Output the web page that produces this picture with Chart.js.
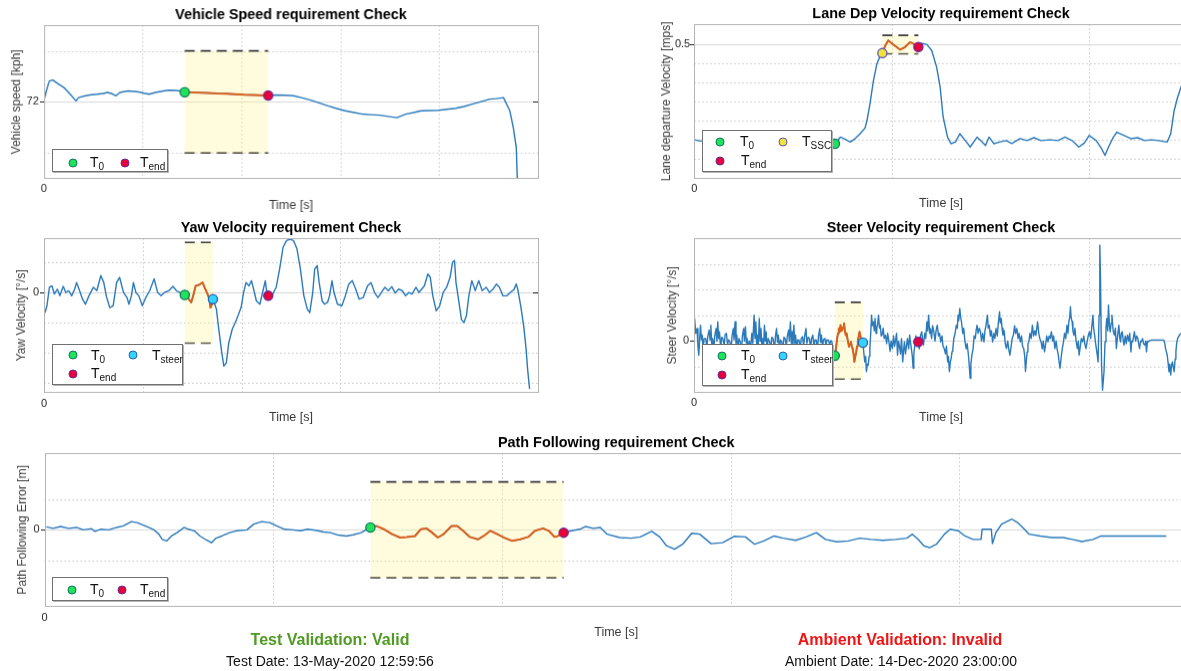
<!DOCTYPE html>
<html><head><meta charset="utf-8">
<script src="https://cdn.jsdelivr.net/npm/chart.js@4.4.1/dist/chart.umd.min.js"></script>
<style>
html,body{margin:0;padding:0;width:1181px;height:671px;overflow:hidden;background:#fff;font-family:"Liberation Sans",Arial,Helvetica,sans-serif;}
canvas{position:absolute;}
.lg{position:absolute;background:#fff;border:1px solid #707070;box-shadow:1px 1px 0 #b5b5b5;box-sizing:border-box;}
.lg .m{position:absolute;width:9px;height:9px;border-radius:50%;box-sizing:border-box;border:1.2px solid;transform:translate(-50%,-50%);}
.lg .t{position:absolute;font-size:14px;line-height:14px;color:#111;white-space:nowrap;}
.lg .t sub{font-size:10px;vertical-align:-3px;line-height:0;}
.ft{position:absolute;transform:translateX(-50%);white-space:nowrap;}
</style></head><body>
<canvas id="c1"></canvas><canvas id="c2"></canvas><canvas id="c3"></canvas><canvas id="c4"></canvas><canvas id="c5"></canvas>

<div class="lg" style="left:52px;top:149px;width:116px;height:23px">
 <span class="m" style="left:20px;top:13px;background:#20e35b;border-color:#0b7a5c"></span>
 <span class="t" style="left:37px;top:5px">T<sub>0</sub></span>
 <span class="m" style="left:72px;top:13px;background:#e8003c;border-color:#6a2c94"></span>
 <span class="t" style="left:87px;top:5px">T<sub>end</sub></span>
</div>
<div class="lg" style="left:702px;top:130px;width:130px;height:42px">
 <span class="m" style="left:17px;top:11px;background:#20e35b;border-color:#0b7a5c"></span>
 <span class="t" style="left:37px;top:3px">T<sub>0</sub></span>
 <span class="m" style="left:80px;top:11px;background:#f4e23c;border-color:#5b59b4"></span>
 <span class="t" style="left:99px;top:3px">T<sub>SSC</sub></span>
 <span class="m" style="left:17px;top:30px;background:#e8003c;border-color:#6a2c94"></span>
 <span class="t" style="left:38px;top:22px">T<sub>end</sub></span>
</div>
<div class="lg" style="left:52px;top:344px;width:131px;height:41px">
 <span class="m" style="left:20px;top:10px;background:#20e35b;border-color:#0b7a5c"></span>
 <span class="t" style="left:38px;top:3px">T<sub>0</sub></span>
 <span class="m" style="left:80px;top:10px;background:#35d3ff;border-color:#2a64b6"></span>
 <span class="t" style="left:99px;top:3px">T<sub>steer</sub></span>
 <span class="m" style="left:20px;top:29px;background:#e8003c;border-color:#6a2c94"></span>
 <span class="t" style="left:38px;top:21px">T<sub>end</sub></span>
</div>
<div class="lg" style="left:702px;top:344px;width:131px;height:42px">
 <span class="m" style="left:19px;top:11px;background:#20e35b;border-color:#0b7a5c"></span>
 <span class="t" style="left:38px;top:3px">T<sub>0</sub></span>
 <span class="m" style="left:80px;top:11px;background:#35d3ff;border-color:#2a64b6"></span>
 <span class="t" style="left:99px;top:3px">T<sub>steer</sub></span>
 <span class="m" style="left:19px;top:30px;background:#e8003c;border-color:#6a2c94"></span>
 <span class="t" style="left:38px;top:22px">T<sub>end</sub></span>
</div>
<div class="lg" style="left:52px;top:577px;width:116px;height:24px">
 <span class="m" style="left:19px;top:12px;background:#20e35b;border-color:#0b7a5c"></span>
 <span class="t" style="left:37px;top:4px">T<sub>0</sub></span>
 <span class="m" style="left:69px;top:12px;background:#e8003c;border-color:#6a2c94"></span>
 <span class="t" style="left:87px;top:4px">T<sub>end</sub></span>
</div>

<div class="ft" style="left:330px;top:631px;font-size:16px;line-height:18px;font-weight:bold;color:#4f9a22">Test Validation: Valid</div>
<div class="ft" style="left:330px;top:653px;font-size:14px;line-height:16px;color:#111">Test Date: 13-May-2020 12:59:56</div>
<div class="ft" style="left:900px;top:631px;font-size:16px;line-height:18px;font-weight:bold;color:#f01414">Ambient Validation: Invalid</div>
<div class="ft" style="left:901px;top:653px;font-size:14px;line-height:16px;color:#111">Ambient Date: 14-Dec-2020 23:00:00</div>

<script>
// ---------------- DATA (time in % of test duration, values in axis units) ----------------
const speedPts = [[0,72.04],[0.6,72.5],[1.1,72.82],[1.8,72.86],[2.8,72.72],[4.2,72.54],[5.6,72.24],[6.5,72.04],[7.0,72.17],[8.4,72.24],[9.6,72.28],[10.8,72.3],[12.0,72.33],[12.9,72.37],[13.8,72.32],[14.6,72.24],[15.4,72.37],[16.2,72.4],[17.1,72.43],[18.2,72.41],[19.2,72.39],[20.3,72.34],[21.3,72.3],[22.4,72.36],[23.4,72.4],[24.5,72.44],[25.5,72.46],[26.5,72.45],[27.5,72.43],[28.5,72.38],[29.8,72.37],[31.5,72.36],[33.1,72.35],[35.0,72.33],[36.9,72.32],[38.7,72.3],[40.5,72.28],[42.2,72.27],[43.8,72.26],[45.4,72.25],[47,72.27],[48.8,72.26],[50.5,72.24],[52.3,72.16],[54,72.07],[55.8,71.95],[57.5,71.84],[59.3,71.74],[61,71.65],[62.8,71.58],[64.5,71.52],[66.2,71.5],[68,71.48],[69.7,71.43],[71.4,71.38],[73.2,71.52],[74.8,71.58],[76.3,71.65],[78,71.66],[79.8,71.67],[81.5,71.71],[83.3,71.75],[85,71.82],[86.7,71.91],[88.5,72.01],[90.2,72.11],[91.6,72.13],[93,72.17],[94.3,71.65],[95,70.99],[95.6,70.21],[95.8,68.99],[96,68.2]];

const lanePts = [[0,0.249],[1.3,0.2455],[4,0.25],[7,0.242],[10,0.248],[13,0.24],[16,0.252],[19,0.245],[22,0.25],[25,0.243],[27.5,0.24],[28.5,0.2387],[29.6,0.256],[30.6,0.25],[31.6,0.243],[32.4,0.25],[33.6,0.265],[34.6,0.28],[35,0.3],[35.6,0.344],[36.3,0.405],[37,0.449],[37.7,0.471],[38.1,0.477],[38.7,0.497],[39.3,0.5105],[40.3,0.5],[41.7,0.486],[42.7,0.493],[43.7,0.506],[44.7,0.5],[45.4,0.493],[45.9,0.503],[47.1,0.5],[48.1,0.484],[49.1,0.44],[49.8,0.388],[50.4,0.31],[51.3,0.256],[52,0.2387],[52.9,0.243],[53.8,0.265],[54.9,0.247],[55.9,0.23],[57.3,0.256],[58.3,0.243],[59,0.234],[59.7,0.256],[60.7,0.2387],[61.8,0.243],[63.2,0.247],[64.3,0.239],[66,0.252],[67.4,0.247],[68.8,0.2545],[70.2,0.247],[72,0.249],[73.7,0.247],[75.1,0.256],[76.5,0.247],[77.9,0.23],[79,0.2403],[80,0.2605],[81.4,0.247],[82.5,0.2255],[83.2,0.208],[83.9,0.23],[84.9,0.256],[85.6,0.269],[87,0.2605],[88.4,0.252],[89.8,0.2545],[91.2,0.247],[92.6,0.249],[94,0.247],[95.8,0.243],[96.5,0.265],[97.2,0.326],[97.9,0.361],[98.6,0.388],[99.2,0.41]];

const yawPts = [[0.2,-0.66],[0.6,-0.43],[1.1,0.18],[1.6,0.23],[2.1,-0.04],[2.7,0.12],[3.2,-0.1],[3.9,0.21],[4.4,0.01],[5.0,0.07],[5.6,-0.1],[6.2,0.12],[6.6,0.34],[7.2,0.07],[7.8,-0.21],[8.4,-0.38],[9.1,-0.1],[10.0,0.18],[10.7,0.07],[11.5,0.57],[12.1,0.34],[12.6,-0.1],[13.3,-0.49],[14.0,-0.43],[14.7,0.34],[15.3,0.51],[16.1,0.01],[16.8,-0.16],[17.2,-0.38],[17.7,-0.1],[18.1,0.34],[18.6,0.01],[19.2,-0.1],[19.9,-0.43],[20.6,-0.16],[21.4,0.07],[22.3,0.46],[23.0,0.01],[23.7,-0.1],[24.4,0.01],[25.3,0.07],[26.1,0.21],[26.8,0.07],[27.5,0.01],[28.5,-0.07],[29.3,-0.21],[29.8,-0.32],[30.3,-0.04],[30.7,0.23],[31.4,0.26],[32.1,0.34],[32.5,0.18],[33.1,-0.04],[33.5,-0.21],[33.7,-0.49],[34.0,-0.38],[34.2,-0.21],[34.9,-0.54],[35.3,-1.1],[35.9,-1.88],[36.4,-2.43],[36.9,-2.32],[37.4,-1.66],[38.1,-1.21],[39.0,-0.88],[39.9,-0.49],[40.4,0.01],[40.9,0.34],[41.5,0.23],[42.0,0.4],[42.5,0.07],[43.0,-0.27],[43.7,-0.38],[44.4,0.12],[44.8,0.4],[45.1,0.01],[45.4,-0.1],[46.3,-0.04],[47.0,0.18],[47.7,0.79],[48.4,1.51],[49.1,1.73],[49.8,1.77],[50.5,1.73],[51.2,1.46],[51.9,0.79],[52.6,-0.1],[53.3,-0.54],[53.8,-0.66],[54.4,0.01],[54.8,0.79],[55.3,0.9],[55.7,0.34],[56.3,-0.27],[56.8,-0.38],[57.4,-0.32],[57.8,-0.1],[58.3,0.4],[58.7,0.01],[59.4,-0.38],[60.3,-0.43],[61.0,-0.1],[61.7,0.29],[62.4,0.4],[63.1,0.12],[63.8,-0.21],[64.6,-0.16],[65.5,0.23],[66.2,0.34],[66.9,0.01],[67.6,-0.16],[68.3,0.01],[69.0,0.18],[69.7,0.07],[70.4,0.2],[71.1,-0.01],[71.8,0.12],[72.5,0.07],[73.2,-0.1],[73.9,0.01],[74.5,-0.04],[75.3,0.18],[75.9,0.01],[77.0,0.23],[77.7,0.62],[78.2,0.51],[78.7,-0.1],[79.4,-0.6],[80.1,-0.43],[80.8,0.01],[81.5,0.18],[82.2,0.51],[82.7,1.01],[83.1,1.07],[83.4,0.34],[84.0,-0.32],[84.5,-0.88],[85.0,-0.99],[85.5,-0.77],[86.0,-0.1],[86.6,0.4],[87.3,0.07],[88.0,0.4],[88.7,0.07],[89.5,0.18],[90.2,0.01],[90.9,0.12],[91.6,0.29],[92.2,0.18],[92.9,-0.1],[93.7,-0.1],[94.4,0.01],[95.1,0.1],[95.6,0.29],[95.9,0.12],[96.5,-0.43],[97.1,-1.1],[97.6,-1.88],[97.9,-2.54],[98.3,-3.19]];

const steerPts = [[0.0,0.45],[0.13,0.88],[0.35,0.3],[0.62,0.49],[0.8,-0.2],[0.97,-0.55],[1.15,0.1],[1.32,0.62],[1.5,0.05],[1.67,0.23],[1.85,-0.3],[2.05,0.1],[2.37,0.1],[2.6,-0.25],[2.8,0.2],[3.07,0.43],[3.25,0.05],[3.41,0.62],[3.6,-0.2],[3.77,0.1],[4.0,-0.35],[4.2,0.2],[4.47,0.49],[4.65,0.0],[4.81,0.75],[5.0,0.1],[5.16,0.36],[5.4,-0.3],[5.6,0.15],[5.86,0.1],[6.1,-0.2],[6.3,0.25],[6.56,0.3],[6.8,-0.15],[7.0,0.05],[7.26,-0.03],[7.5,-0.4],[7.7,0.2],[7.96,0.49],[8.1,0.05],[8.31,0.75],[8.5,-0.1],[8.66,0.23],[8.9,-0.3],[9.1,0.1],[9.36,-0.03],[9.6,-0.45],[9.8,0.2],[10.06,0.49],[10.2,0.0],[10.41,0.56],[10.6,-0.1],[10.76,0.1],[11.0,-0.3],[11.2,0.0],[11.46,-0.29],[11.7,0.3],[11.9,-0.1],[12.16,1.01],[12.35,0.1],[12.52,0.75],[12.7,-0.2],[12.86,0.23],[13.0,-0.35],[13.21,0.88],[13.4,0.0],[13.56,0.49],[13.75,-0.3],[13.91,0.1],[14.1,-0.2],[14.26,0.62],[14.45,0.0],[14.61,0.36],[14.8,-0.4],[15.0,0.1],[15.31,-0.03],[15.55,-0.3],[15.75,0.15],[16.01,0.1],[16.3,-0.35],[16.5,0.2],[16.71,0.49],[16.9,-0.05],[17.06,0.23],[17.3,-0.3],[17.5,0.05],[17.76,-0.03],[18.0,-0.4],[18.2,0.15],[18.46,0.1],[18.7,-0.2],[18.9,0.2],[19.16,0.43],[19.3,0.0],[19.51,0.75],[19.7,-0.1],[19.86,0.36],[20.0,-0.25],[20.21,0.62],[20.4,-0.1],[20.56,0.23],[20.8,-0.3],[21.0,0.05],[21.26,0.04],[21.5,-0.35],[21.7,0.1],[21.96,0.17],[22.2,-0.2],[22.4,0.2],[22.66,0.49],[22.85,-0.1],[23.1,0.15],[23.36,0.1],[23.6,-0.3],[23.8,0.1],[24.06,0.23],[24.3,-0.25],[24.5,0.05],[24.76,0.04],[25.0,-0.35],[25.2,0.2],[25.46,0.49],[25.6,-0.05],[25.81,0.23],[26.0,-0.3],[26.2,0.05],[26.51,0.1],[26.7,-0.2],[26.9,0.05],[27.21,0.04],[27.45,-0.15],[27.7,0.02],[27.91,-0.03],[28.1,-0.3],[28.26,-0.42],[28.5,-0.57],
[28.8,-0.2],[28.97,0.1],[29.15,0.3],[29.3,0.49],[29.5,0.35],[29.66,0.62],[29.85,0.4],[30.0,0.43],[30.2,0.55],[30.36,0.69],[30.55,0.4],[30.71,0.23],[30.9,0.3],[31.06,0.1],[31.25,-0.1],[31.4,-0.22],[31.6,-0.1],[31.76,-0.03],[31.95,-0.2],[32.1,-0.29],[32.3,-0.5],[32.46,-0.81],[32.65,-0.6],[32.8,-0.48],[33.0,-0.2],[33.16,-0.03],[33.35,0.2],[33.5,0.36],[33.7,0.17],[33.9,0.0],[34.2,-0.06],
[34.4,-0.5],[34.56,-0.81],[34.75,-0.6],[34.9,-1.19],[35.1,-0.9],[35.26,-0.94],[35.45,-0.6],[35.6,-0.29],[35.8,0.4],[35.95,1.01],[36.1,0.6],[36.3,0.75],[36.5,0.4],[36.65,0.88],[36.85,0.3],[37.0,0.49],[37.2,0.7],[37.35,1.01],[37.55,0.5],[37.7,0.62],[37.9,0.2],[38.06,0.23],[38.3,0.5],[38.5,0.1],[38.76,0.23],[39.0,-0.1],[39.2,0.3],[39.46,-0.03],[39.7,-0.4],[39.9,0.0],[40.16,-0.29],[40.4,0.2],[40.6,-0.2],[40.86,0.1],[41.0,0.3],[41.2,-0.55],[41.4,0.0],[41.55,-0.16],[41.8,-0.5],[42.0,0.1],[42.25,-0.81],[42.45,-0.3],[42.6,-0.03],[42.8,-0.5],[42.95,-0.29],[43.2,0.1],[43.45,-0.3],[43.65,0.23],[43.85,-0.1],[44.0,-0.29],[44.2,-0.6],[44.35,-1.06],[44.5,-0.5],[44.7,-0.16],[44.9,0.2],[45.05,0.1],[45.4,-0.03],[45.6,-0.3],[45.85,0.2],[46.1,0.36],[46.3,0.0],[46.45,-0.16],[46.7,0.3],[46.9,0.1],[47.15,0.75],[47.3,0.4],[47.5,1.01],[47.7,0.3],[47.85,0.49],[48.1,0.1],[48.3,0.6],[48.55,0.36],[48.8,0.0],[49.0,0.4],[49.25,0.62],[49.5,0.2],[49.7,0.3],[49.95,-0.03],[50.2,0.2],[50.4,-0.2],[50.65,-0.29],[50.9,-0.5],[51.1,-0.2],[51.35,-0.81],[51.5,-0.6],[51.7,-1.19],[51.9,-0.8],[52.05,-0.68],[52.25,-0.4],[52.4,-0.29],[52.6,0.1],[52.85,0.3],[53.1,0.62],[53.3,0.5],[53.45,1.01],[53.6,0.8],[53.8,1.27],[54.0,0.9],[54.15,0.75],[54.4,0.3],[54.6,0.5],[54.85,-0.03],[55.1,-0.3],[55.3,-0.1],[55.55,-0.55],[55.7,-0.9],[55.9,-1.45],[56.05,-0.9],[56.25,-0.55],[56.5,-0.3],[56.7,0.2],[56.95,0.1],[57.1,0.4],[57.3,0.62],[57.5,0.3],[57.75,0.5],[58.0,0.36],[58.2,0.0],[58.45,0.3],[58.7,-0.03],[58.9,0.4],[59.1,0.6],[59.4,1.01],[59.55,0.5],[59.75,0.62],[60.0,0.2],[60.2,0.4],[60.45,-0.03],[60.7,0.3],[60.9,0.1],[61.15,0.49],[61.4,0.2],[61.6,0.7],[61.85,1.14],[62.0,0.7],[62.2,0.88],[62.35,0.5],[62.55,0.23],[62.8,0.4],[63.0,-0.1],[63.25,-0.29],[63.5,0.0],[63.7,-0.3],[63.95,-0.55],[64.2,-0.2],[64.4,0.1],[64.65,0.23],[64.9,0.6],[65.1,0.3],[65.35,0.49],[65.6,0.1],[65.8,0.3],[66.05,-0.03],[66.3,0.2],[66.5,-0.2],[66.75,-0.29],[66.95,-0.6],[67.1,-1.19],[67.3,-0.7],[67.45,-0.42],[67.6,-0.1],[67.8,-0.03],[68.0,0.3],[68.25,0.1],[68.5,0.62],[68.75,0.2],[69.0,0.4],[69.2,0.23],[69.4,0.5],[69.55,0.75],[69.8,0.3],[70.0,0.1],[70.25,-0.03],[70.5,-0.3],[70.7,0.0],[70.95,-0.42],[71.2,-0.1],[71.4,0.2],[71.65,-0.03],[71.9,0.2],[72.1,0.1],[72.35,0.36],[72.6,0.0],[72.8,0.2],[73.05,-0.29],[73.3,0.0],[73.5,-0.3],[73.75,-0.55],[73.9,-0.8],[74.1,-1.06],[74.35,-0.6],[74.55,-0.3],[74.8,-0.03],[75.0,0.3],[75.25,0.1],[75.5,0.62],[75.7,0.3],[75.9,0.8],[76.05,0.9],[76.2,1.34],[76.35,0.9],[76.55,0.75],[76.7,0.4],[76.9,0.23],[77.1,0.5],[77.35,0.0],[77.6,-0.29],[77.8,0.0],[77.95,-0.55],[78.2,-0.2],[78.4,0.1],[78.65,-0.03],[78.9,0.2],[79.1,-0.1],[79.35,-0.29],[79.6,0.0],[79.8,0.2],[80.05,0.36],[80.3,0.1],[80.5,0.5],[80.75,1.01],[80.9,0.5],[81.1,0.23],[81.3,-0.1],[81.45,-0.29],[81.6,-0.5],[81.8,-0.81],[82.0,1.01],[82.15,3.74],[82.3,2.31],[82.5,-0.94],[82.7,-1.91],[83.0,-1.19],[83.2,-0.03],[83.4,0.5],[83.55,0.88],[83.75,0.4],[83.9,1.4],[84.1,0.6],[84.25,0.36],[84.45,0.7],[84.6,1.01],[84.85,0.4],[85.1,0.23],[85.3,0.5],[85.5,-0.29],[85.75,0.2],[86.0,0.62],[86.2,0.1],[86.35,-0.03],[86.5,0.3],[86.7,0.36],[86.9,0.0],[87.05,-0.16],[87.3,0.2],[87.5,-0.1],[87.75,0.23],[88.0,0.0],[88.2,0.3],[88.45,-0.42],[88.6,0.0],[88.8,-0.03],[89.0,0.2],[89.15,0.36],[89.4,0.0],[89.6,0.2],[89.85,0.1],[90.0,-0.1],[90.2,-0.29],[90.4,0.0],[90.55,-0.03],[90.8,0.1],[91.0,-0.1],[91.25,-0.16],[91.45,0.0],[91.6,-0.42],[91.8,0.0],[91.95,-0.03],[92.3,0.02],[92.65,0.04],[95.1,0.04],[95.3,-0.1],[95.45,-0.29],[95.6,-0.4],[95.8,-0.55],[96.0,-0.9],[96.15,-1.19],[96.3,-0.9],[96.5,-1.32],[96.7,-0.9],[96.85,-0.81],[97.0,-1.0],[97.2,-1.19],[97.4,-0.7],[97.55,-0.42],[97.7,-0.1],[97.9,0.1],[98.25,0.23],[98.6,0.3]];

const pathPts = [[0.16,0.1],[0.76,0.05],[1.4,0.11],[2.1,0.05],[2.8,0.08],[3.4,0],[4.1,0.04],[4.4,-0.05],[4.9,0.02],[5.6,0],[6.3,0.08],[6.9,0.13],[7.6,0.27],[8.1,0.24],[8.8,0.13],[9.5,0.02],[10,-0.14],[10.3,-0.31],[10.7,-0.36],[11.1,-0.2],[11.6,-0.09],[12.2,0.08],[12.6,0.02],[13.1,-0.03],[13.6,-0.2],[14.2,-0.34],[14.6,-0.42],[15,-0.27],[15.5,-0.2],[16.2,-0.09],[16.8,-0.03],[17.7,0],[18.3,0.19],[19,0.27],[19.7,0.24],[20.3,0.13],[21,0.02],[21.7,0],[22.4,-0.03],[23,0.02],[23.7,-0.01],[24.4,-0.07],[25,-0.09],[25.7,-0.17],[26.4,-0.2],[27,-0.16],[27.7,-0.09],[28.5,0.08],[29,0.13],[29.7,0.02],[30.4,-0.14],[31.1,-0.25],[31.7,-0.23],[32.4,-0.2],[32.9,0.02],[33.4,0.05],[33.9,-0.09],[34.4,-0.25],[34.9,-0.14],[35.6,0.13],[36.1,0.13],[36.6,-0.03],[37.2,-0.23],[37.9,-0.31],[38.4,-0.2],[39,-0.03],[39.6,-0.14],[40.3,-0.27],[40.9,-0.36],[41.6,-0.31],[42.3,-0.23],[42.9,-0.03],[43.6,0.05],[44.1,-0.03],[44.6,-0.23],[44.9,-0.2],[45.4,-0.09],[46.1,-0.03],[46.8,0.02],[47.3,0.11],[48,0.05],[48.6,0.08],[49.2,-0.14],[50.3,-0.25],[51.3,-0.27],[52.1,-0.23],[53.1,-0.05],[53.8,-0.23],[54.4,-0.52],[55.1,-0.63],[55.8,-0.47],[56.6,-0.11],[57.3,-0.14],[58.3,-0.45],[59.3,-0.42],[60.3,-0.21],[61.3,-0.23],[62.1,-0.47],[62.9,-0.36],[63.8,-0.2],[64.6,-0.27],[65.7,-0.34],[66.6,-0.23],[67.5,-0.09],[68.3,-0.31],[69.3,-0.39],[70.3,-0.36],[71.3,-0.27],[72.3,-0.31],[73.3,-0.34],[74.4,-0.31],[75.4,-0.27],[75.9,-0.14],[76.4,-0.31],[76.9,-0.52],[77.4,-0.58],[78,-0.47],[78.7,-0.14],[79.2,0.02],[79.9,-0.03],[80.5,-0.2],[81.2,-0.31],[81.9,-0.31],[82.0,0.02],[82.8,0.02],[82.9,-0.45],[83.2,-0.09],[83.7,0.19],[84.6,0.35],[85.1,0.24],[85.7,0.02],[86.1,-0.14],[87.1,-0.2],[88.1,-0.25],[89.1,-0.25],[89.9,-0.31],[90.7,-0.38],[91.7,-0.31],[92.4,-0.2],[98.1,-0.2]];

// event times (% of test)
const tZero = 28.5, tSteer = 34.2, tSSC = 38.1, tEnd = 45.4;

// requirement bounds [low, high]
const speedBounds = [70, 74];
const laneBounds = [0.4755, 0.524];
const yawBounds = [-1.67, 1.67];
const steerBounds = [-1.48, 1.51];
const pathBounds = [-1.56, 1.57];

// axis ranges
const timeRange = [0, 100];
const speedRange = [69, 75];
const laneRange = [0.1474, 0.5526];
const yawRange = [-3.3, 1.8];
const steerRange = [-2, 4];
const pathRange = [-2.5, 2.5];

// labelled ticks
const xTickValues = [0];
const xTickLabels = ['0'];
const speedTickValues = [72], speedTickLabels = ['72'];
const laneTickValues = [0.5], laneTickLabels = ['0.5'];
const yawTickValues = [0], yawTickLabels = ['0'];
const steerTickValues = [0], steerTickLabels = ['0'];
const pathTickValues = [0], pathTickLabels = ['0'];

// minor (dotted) grid positions
const gridXFine = [20, 40, 60, 80];
const gridXCoarse = [40, 80];
const speedGridY = [70, 74];
const laneGridY = [0.2, 0.25, 0.3, 0.35, 0.4, 0.45];
const yawGridY = [1, -1, -2, -3];
const steerGridY = [-1, 1, 2, 3];
const pathGridY = [-1, 1];

// texts
const titles = ['Vehicle Speed requirement Check','Lane Dep Velocity requirement Check','Yaw Velocity requirement Check','Steer Velocity requirement Check','Path Following requirement Check'];
const yLabels = ['Vehicle speed [kph]','Lane departure Velocity [mps]','Yaw Velocity [°/s]','Steer Velocity [°/s]','Path Following Error [m]'];
const xLabel = 'Time [s]';

// ---------------- STYLE ----------------
const FONT = '"Liberation Sans", Arial, Helvetica, sans-serif';
Chart.defaults.font.family = FONT;
const MK = {
  green: {fill:'#20e35b', edge:'#0b7a5c'},
  red: {fill:'#e8003c', edge:'#6a2c94'},
  yellow: {fill:'#f4e23c', edge:'#5b59b4'},
  cyan: {fill:'#35d3ff', edge:'#2a64b6'}
};

function nearestValue(pts, t) {
  let best = pts[0];
  for (const p of pts) if (Math.abs(p[0]-t) < Math.abs(best[0]-t)) best = p;
  return best[1];
}

const framePlugin = {
  id: 'frame',
  beforeDatasetsDraw(chart, args, o) {
    const {ctx, chartArea: a, scales: {x, y}} = chart;
    ctx.save();
    ctx.lineWidth = 1;
    ctx.strokeStyle = '#c6c6c6';
    ctx.setLineDash([1.5, 2.5]);
    ctx.beginPath();
    for (const v of o.gridX) { const p = Math.round(x.getPixelForValue(v)) + 0.5; ctx.moveTo(p, a.top); ctx.lineTo(p, a.bottom); }
    for (const v of o.gridY) { const p = Math.round(y.getPixelForValue(v)) + 0.5; ctx.moveTo(a.left, p); ctx.lineTo(a.right, p); }
    ctx.stroke();
    ctx.setLineDash([]);
    ctx.strokeStyle = '#d8d8d8';
    ctx.beginPath();
    for (const v of o.majorY) { const p = Math.round(y.getPixelForValue(v)) + 0.5; ctx.moveTo(a.left, p); ctx.lineTo(a.right, p); }
    ctx.stroke();
    ctx.restore();
  },
  afterDatasetsDraw(chart, args, o) {
    const {ctx, chartArea: a, scales: {y}} = chart;
    ctx.save();
    ctx.lineWidth = 1;
    ctx.strokeStyle = '#b4b4b4';
    ctx.strokeRect(Math.round(a.left) + 0.5, Math.round(a.top) + 0.5, Math.round(a.right - a.left), Math.round(a.bottom - a.top));
    ctx.strokeStyle = '#222';
    ctx.beginPath();
    for (const v of o.majorY) {
      const p = Math.round(y.getPixelForValue(v)) + 0.5;
      ctx.moveTo(Math.round(a.left) - 4, p); ctx.lineTo(Math.round(a.left), p);
      ctx.moveTo(a.right - 5, p); ctx.lineTo(a.right, p);
    }
    ctx.stroke();
    ctx.restore();
  }
};

function makeChart(id, L, d) {
  const TH = 24;
  const cv = document.getElementById(id);
  const W = L.box[2] - L.box[0] + L.yw + 10;
  const H = L.box[3] - L.box[1] + TH + L.xh;
  cv.width = W; cv.height = H;
  cv.style.width = W + 'px'; cv.style.height = H + 'px';
  cv.style.left = (L.box[0] - L.yw) + 'px';
  cv.style.top = (L.box[1] - TH) + 'px';
  const boundStyle = {borderColor:'#3b3b3b', borderWidth:1.6, borderDash:[10,6], pointRadius:0, order:5};
  const datasets = [
    Object.assign({data:[{x:d.hl[0],y:d.bounds[1]},{x:d.hl[1],y:d.bounds[1]}], fill:'+1', backgroundColor:'rgba(255,246,150,0.32)'}, boundStyle),
    Object.assign({data:[{x:d.hl[0],y:d.bounds[0]},{x:d.hl[1],y:d.bounds[0]}], fill:false}, boundStyle),
    {data:d.pts.map(p=>({x:p[0],y:p[1]})), borderColor:'#2a79ba', borderWidth:1.4, pointRadius:0, fill:false, order:3, borderJoinStyle:'round'},
    {data:d.pts.filter(p=>p[0]>=d.seg[0]-1e-9 && p[0]<=d.seg[1]+1e-9).map(p=>({x:p[0],y:p[1]})), borderColor:'#d9601d', borderWidth:2, pointRadius:0, fill:false, order:2, borderJoinStyle:'round'}
  ];
  for (const m of d.markers) {
    datasets.push({data:[{x:m[0], y:nearestValue(d.pts, m[0])}], showLine:false, pointRadius:4.6, pointBorderWidth:1.3,
      pointBackgroundColor:MK[m[1]].fill, pointBorderColor:MK[m[1]].edge, order:0});
  }
  return new Chart(cv, {
    type:'line',
    data:{datasets},
    plugins:[framePlugin],
    options:{
      responsive:false, animation:false, devicePixelRatio:1, events:[],
      layout:{padding:{left:0, top:0, right:10, bottom:0}},
      plugins:{
        legend:{display:false}, tooltip:{enabled:false},
        title:{display:true, text:d.title, fullSize:false, color:'#000', font:{size:14.4, weight:'bold'}, padding:{top:5.4, bottom:1.6}},
        frame:{gridX:d.gridX, gridY:d.gridY, majorY:d.yTicks}
      },
      scales:{
        x:{type:'linear', min:timeRange[0], max:timeRange[1],
           grid:{display:false, drawTicks:false}, border:{display:false},
           afterBuildTicks: s => { s.ticks = xTickValues.map(v=>({value:v})); },
           afterFit: s => { s.height = L.xh; },
           ticks:{padding:L.xpad, maxRotation:0, autoSkip:false, color:'#262626', font:{size:11}, callback:(v,i)=>xTickLabels[i]},
           title:{display:true, text:xLabel, color:'#3c3c3c', font:{size:12.5}, padding:0}},
        y:{type:'linear', min:d.range[0], max:d.range[1],
           grid:{display:false, drawTicks:false}, border:{display:false},
           afterBuildTicks: s => { s.ticks = d.yTicks.map(v=>({value:v})); },
           afterFit: s => { s.width = L.yw; },
           ticks:{padding:L.ypad, autoSkip:false, color:'#262626', font:{size:11}, callback:(v,i)=>d.yLabels[i]},
           title:{display:true, text:d.ylabel, color:'#3c3c3c', font:{size:12}, padding:0}}
      }
    }
  });
}

makeChart('c1', {box:[44,25,538,178], yw:34.8, xh:34.5, ypad:5, xpad:3.4},
  {pts:speedPts, bounds:speedBounds, hl:[tZero,tEnd], seg:[tZero,tEnd], markers:[[tZero,'green'],[tEnd,'red']],
   range:speedRange, yTicks:speedTickValues, yLabels:speedTickLabels, gridX:gridXFine, gridY:speedGridY, title:titles[0], ylabel:yLabels[0]});
makeChart('c2', {box:[694,24,1188,178], yw:35.2, xh:32.5, ypad:4, xpad:3.4},
  {pts:lanePts, bounds:laneBounds, hl:[tSSC,tEnd], seg:[tSSC,tEnd], markers:[[tZero,'green'],[tSSC,'yellow'],[tEnd,'red']],
   range:laneRange, yTicks:laneTickValues, yLabels:laneTickLabels, gridX:gridXCoarse, gridY:laneGridY, title:titles[1], ylabel:yLabels[1]});
makeChart('c3', {box:[44,238,538,392], yw:30, xh:32.5, ypad:5, xpad:4.4},
  {pts:yawPts, bounds:yawBounds, hl:[tZero,tSteer], seg:[tZero,tSteer], markers:[[tZero,'green'],[tSteer,'cyan'],[tEnd,'red']],
   range:yawRange, yTicks:yawTickValues, yLabels:yawTickLabels, gridX:gridXFine, gridY:yawGridY, title:titles[2], ylabel:yLabels[2]});
makeChart('c4', {box:[694,238,1188,392], yw:29, xh:32.5, ypad:5, xpad:3.4},
  {pts:steerPts, bounds:steerBounds, hl:[tZero,tSteer], seg:[tZero,tSteer], markers:[[tZero,'green'],[tSteer,'cyan'],[tEnd,'red']],
   range:steerRange, yTicks:steerTickValues, yLabels:steerTickLabels, gridX:gridXCoarse, gridY:steerGridY, title:titles[3], ylabel:yLabels[3]});
makeChart('c5', {box:[44,453,1188,606], yw:29.5, xh:33.5, ypad:5, xpad:4.4},
  {pts:pathPts, bounds:pathBounds, hl:[tZero,tEnd], seg:[tZero,tEnd], markers:[[tZero,'green'],[tEnd,'red']],
   range:pathRange, yTicks:pathTickValues, yLabels:pathTickLabels, gridX:gridXFine, gridY:pathGridY, title:titles[4], ylabel:yLabels[4]});
</script>
</body></html>
